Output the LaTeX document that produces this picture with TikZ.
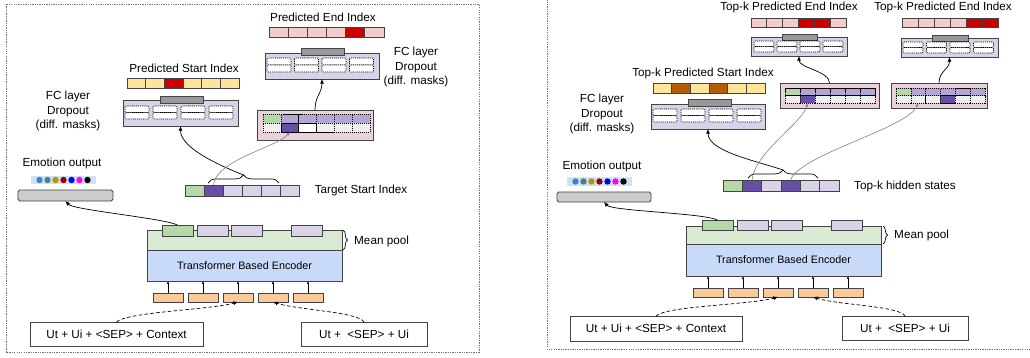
\documentclass[tikz,border=0pt]{standalone}
\usepackage{fontspec}
\setmainfont{Liberation Sans}
\usepackage{tikz}
\usetikzlibrary{positioning, decorations.pathreplacing, arrows.meta}
\definecolor{cellyellow}{HTML}{FFE599}
\definecolor{cellred}{HTML}{CC0000}
\definecolor{cellpink}{HTML}{F4CCCC}
\definecolor{cellbrown}{HTML}{B45F06}
\definecolor{fclavender}{HTML}{D9D2E9}
\definecolor{bargray}{HTML}{999999}
\definecolor{concatpink}{HTML}{EAD1DC}
\definecolor{tokgreen}{HTML}{B6D7A8}
\definecolor{tokpurple}{HTML}{B4A7D6}
\definecolor{tokdark}{HTML}{674EA7}
\definecolor{toklight}{HTML}{D9D2E9}
\definecolor{tokgray}{HTML}{EFEFEF}
\definecolor{emogray}{HTML}{CCCCCC}
\definecolor{emoblue}{HTML}{CFE2F3}
\definecolor{poolgreen}{HTML}{D9EAD3}
\definecolor{encblue}{HTML}{C9DAF8}
\definecolor{inorange}{HTML}{F9CB9C}
\definecolor{edgegray}{HTML}{434343}
\definecolor{dotA}{HTML}{3D85C6}
\definecolor{dotB}{HTML}{45818E}
\definecolor{dotC}{HTML}{BF9000}
\definecolor{dotD}{HTML}{990000}
\definecolor{dotE}{HTML}{0000FF}
\definecolor{dotF}{HTML}{FF00FF}
\definecolor{dotG}{HTML}{000000}
\tikzset{
    box/.style = {draw=edgegray, line width=0.7pt, inner sep=0pt, outer sep=0pt},
    cell/.style = {box, minimum height=0.3cm},
    dcell/.style = {draw=black, line width=0.45pt, dash pattern=on 1pt off 0.8pt,
        rounded corners=0.8pt, fill=white},
    pcell/.style = {draw=black, line width=0.4pt, dash pattern=on 1pt off 0.7pt,
        inner sep=0pt, outer sep=0pt},
    txt/.style = {font=\fontsize{10}{12}\selectfont, align=center, inner sep=0pt},
    line/.style = {-{Latex[length=4pt,width=3.5pt]}, line width=0.6pt},
    gline/.style = {-{Latex[length=3pt,width=2.5pt]}, line width=0.5pt, draw=gray},
    tick/.style = {-{Latex[length=2.5pt,width=2pt]}, line width=0.4pt},
    dline/.style = {line, dash pattern=on 3pt off 2pt},
    frame/.style = {draw=gray!90!black, line width=0.8pt, dash pattern=on 1.1pt off 0.9pt},
    curly/.style = {decorate, decoration={brace, amplitude=#1}, line width=0.6pt}
}

\begin{document}
\begin{tikzpicture}[x=0.03cm, y=-0.03cm]

    \useasboundingbox (0,0) rectangle (1030,357);
    \clip (0,0) rectangle (1030,357);

    % Outer frames
    \draw[frame] (6,4) rectangle (479,352);
    \draw[frame] (547,-10) rectangle (1040,349);

    %%%%%%%%%%%%%%%% LEFT PANEL %%%%%%%%%%%%%%%%

    % Predicted start index
    \node[txt] (psLtxt) at (184,68) {Predicted Start Index};
    \foreach \c [count=\i] in {cellyellow,cellyellow,cellred,cellyellow,cellyellow,cellyellow}
        \node[cell, fill=\c, minimum width=0.561cm] (psL\i) at ({127+18.7*(\i-0.5)},83) {};

    % FC layer (start)
    \node[box, fill=fclavender, minimum width=3.45cm, minimum height=0.78cm] (fcsL) at (180.5,113) {};
    \node[box, fill=bargray, minimum width=1.29cm, minimum height=0.21cm] (barsL) at (181.5,99.5) {};
    \foreach \i in {0,...,3} {
        \draw[dcell] ({125+28*\i},106) rectangle ++(24,6.5);
        \draw[dcell] ({125+28*\i},112.5) rectangle ++(24,6.5);
    }
    \node[txt] (fcLtxtA) at (68,111) {FC layer\\Dropout\\(diff. masks)};

    % Predicted end index
    \node[txt] (peLtxt) at (323,17) {Predicted End Index};
    \foreach \c [count=\i] in {cellpink,cellpink,cellpink,cellpink,cellred,cellpink}
        \node[cell, fill=\c, minimum width=0.575cm] (peL\i) at ({269+19.17*(\i-0.5)},32) {};

    % FC layer (end)
    \node[box, fill=fclavender, minimum width=3.42cm, minimum height=0.78cm] (fceL) at (322,66) {};
    \node[box, fill=bargray, minimum width=1.29cm, minimum height=0.21cm] (bareL) at (322.5,51.5) {};
    \foreach \i in {0,...,3} {
        \draw[dcell] ({267+27.5*\i},58) rectangle ++(24,7);
        \draw[dcell] ({267+27.5*\i},65) rectangle ++(24,7);
    }
    \node[txt] (fcLtxtB) at (416,67) {FC layer\\Dropout\\(diff. masks)};

    % Concatenated states
    \node[box, fill=concatpink, minimum width=3.48cm, minimum height=0.9cm] (pkL) at (315,125) {};
    \foreach \c [count=\i] in {tokgreen,tokpurple,tokpurple,tokpurple,tokpurple,tokpurple}
        \node[pcell, fill=\c, minimum width=0.535cm, minimum height=0.27cm] (pkLt\i) at ({263+17.83*(\i-0.5)},118.5) {};
    \foreach \c [count=\i] in {tokgray,tokdark,white,tokgray,tokgray,tokgray}
        \node[pcell, fill=\c, minimum width=0.535cm, minimum height=0.27cm] (pkLb\i) at ({263+17.83*(\i-0.5)},127.5) {};
    \draw[line width=0.5pt] (pkLb2.north west) rectangle (pkLb3.south east);
    \draw[line width=0.5pt] (pkLb2.north east) -- (pkLb2.south east);

    % Target start index
    \foreach \c [count=\i] in {tokgreen,tokdark,toklight,toklight,toklight,toklight}
        \node[cell, fill=\c, minimum width=0.57cm, minimum height=0.33cm] (tsL\i) at ({185+19*(\i-0.5)},190.5) {};
    \draw[curly=7pt] (208,183) -- (279,183);
    \coordinate (tipL) at (243.5,175);
    \node[txt] (tsLtxt) at (361,190) {Target Start Index};

    % Emotion output
    \node[txt] (emoLtxt) at (62,163) {Emotion output};
    \node[fill=emoblue, inner sep=0pt, minimum width=1.95cm, minimum height=0.24cm] (dotsL) at (63.5,180) {};
    \foreach \c [count=\i] in {dotA,dotB,dotC,dotD,dotE,dotF,dotG}
        \fill[\c] ({39.5+8*(\i-1)},180) circle (0.096cm);
    \node[box, fill=emogray, rounded corners=1.5pt, minimum width=2.85cm, minimum height=0.33cm] (emoL) at (65.5,195.5) {};

    % Encoder
    \node[box, fill=poolgreen, minimum width=5.85cm, minimum height=0.6cm] (mpL) at (244.5,240) {};
    \node[box, fill=encblue, minimum width=5.85cm, minimum height=0.93cm,
        font=\fontsize{9.2}{11}\selectfont] (encL) at (244.5,265.5) {Transformer Based Encoder};
    \foreach \c/\x [count=\i] in {tokgreen/177.5,toklight/212.5,toklight/246.5,toklight/307}
        \node[cell, fill=\c, minimum width=0.93cm, minimum height=0.33cm] (tcL\i) at (\x,230.5) {};
    \draw[curly=4pt] (343,230) -- (343,250);
    \node[txt, anchor=west] (mpLtxt) at (354,241) {Mean pool};

    % Input tokens
    \foreach \i in {1,...,5} {
        \node[cell, fill=inorange, minimum width=0.9cm, minimum height=0.27cm] (tokL\i) at ({168+35*(\i-1)},297.5) {};
        \draw[tick] (tokL\i.north) -- (tokL\i.north |- encL.south);
    }
    \node[box, txt, draw=edgegray, minimum width=5.19cm, minimum height=0.72cm] (inL1) at (116.5,334) {Ut + Ui + <SEP> + Context};
    \node[box, txt, draw=edgegray, minimum width=3.78cm, minimum height=0.72cm] (inL2) at (364,334) {Ut +\ \ <SEP> + Ui};

    % Connectors
    \draw[dline] (inL1.north) .. controls +(10,-10) and +(-30,8) .. (tokL3.south);
    \draw[dline] (inL2.north) .. controls +(-5,-10) and +(25,8) .. (tokL4.south);
    \draw[line] (tcL1.north) .. controls +(-15,-7) and +(8,9) .. (emoL.south);
    \draw[line] (tipL) .. controls +(-25,-10) and +(0,22) .. (fcsL.south);
    \draw[gline] (tsL2.north) .. controls +(2,-25) and +(-12,15) .. (pkLb2.south);
    \draw[line] (pkL.north) .. controls +(0,-14) and +(0,14) .. (fceL.south);

    %%%%%%%%%%%%%%%% RIGHT PANEL %%%%%%%%%%%%%%%%

    % Top-k predicted start index
    \node[txt] (psRtxt) at (703,73) {Top-k Predicted Start Index};
    \foreach \c [count=\i] in {cellyellow,cellbrown,cellyellow,cellbrown,cellyellow,cellyellow}
        \node[cell, fill=\c, minimum width=0.56cm] (psR\i) at ({653+18.67*(\i-0.5)},88) {};

    % FC layer (start)
    \node[box, fill=fclavender, minimum width=3.42cm, minimum height=0.75cm] (fcsR) at (708,116.5) {};
    \node[box, fill=bargray, minimum width=1.29cm, minimum height=0.21cm] (barsR) at (709.5,102.5) {};
    \foreach \i in {0,...,3} {
        \draw[dcell] ({653+28*\i},109) rectangle ++(24,6.5);
        \draw[dcell] ({653+28*\i},115.5) rectangle ++(24,6.5);
    }
    \node[txt] (fcRtxt) at (602,114) {FC layer\\Dropout\\(diff. masks)};

    % Top-k hidden states
    \foreach \c [count=\i] in {tokgreen,tokdark,toklight,tokdark,toklight,toklight}
        \node[cell, fill=\c, minimum width=0.58cm, minimum height=0.33cm] (tkR\i) at ({723+19.33*(\i-0.5)},185.5) {};
    \draw[curly=7pt] (748,178) -- (818,178);
    \coordinate (tipR) at (783,170);
    \node[txt] (tkRtxt) at (905,186) {Top-k hidden states};

    % End branch A
    \node[txt] (peAtxt) at (789,7) {Top-k Predicted End Index};
    \foreach \c [count=\i] in {cellpink,cellpink,cellpink,cellred,cellred,cellpink}
        \node[cell, fill=\c, minimum width=0.475cm, minimum height=0.27cm] (peA\i) at ({751+15.83*(\i-0.5)},22.5) {};
    \node[box, fill=fclavender, minimum width=2.88cm, minimum height=0.57cm] (fcA) at (799,46.5) {};
    \node[box, fill=bargray, minimum width=1.05cm, minimum height=0.18cm] (barA) at (799.5,37) {};
    \foreach \i in {0,...,3} {
        \draw[dcell] ({754+23*\i},41) rectangle ++(20,5.5);
        \draw[dcell] ({754+23*\i},46.5) rectangle ++(20,5.5);
    }
    \node[box, fill=concatpink, minimum width=2.97cm, minimum height=0.75cm] (pkA) at (829.5,95.5) {};
    \foreach \c [count=\i] in {tokgreen,tokpurple,tokpurple,tokpurple,tokpurple,tokpurple}
        \node[pcell, fill=\c, minimum width=0.45cm, minimum height=0.225cm] (pkAt\i) at ({785+15*(\i-0.5)},91.75) {};
    \foreach \c [count=\i] in {tokgray,tokdark,tokgray,tokgray,tokgray,tokgray}
        \node[pcell, fill=\c, minimum width=0.45cm, minimum height=0.225cm] (pkAb\i) at ({785+15*(\i-0.5)},99.25) {};

    % End branch B
    \node[txt] (peBtxt) at (943,7) {Top-k Predicted End Index};
    \foreach \c [count=\i] in {cellpink,cellpink,cellpink,cellpink,cellred,cellred}
        \node[cell, fill=\c, minimum width=0.48cm, minimum height=0.27cm] (peB\i) at ({902+16*(\i-0.5)},22.5) {};
    \node[box, fill=fclavender, minimum width=2.91cm, minimum height=0.57cm] (fcB) at (949.5,47.5) {};
    \node[box, fill=bargray, minimum width=1.08cm, minimum height=0.18cm] (barB) at (950,38) {};
    \foreach \i in {0,...,3} {
        \draw[dcell] ({903+23.5*\i},42) rectangle ++(20,5.5);
        \draw[dcell] ({903+23.5*\i},47.5) rectangle ++(20,5.5);
    }
    \node[box, fill=concatpink, minimum width=2.88cm, minimum height=0.75cm] (pkB) at (939,95.5) {};
    \foreach \c [count=\i] in {tokgreen,tokpurple,tokpurple,tokpurple,tokpurple,tokpurple}
        \node[pcell, fill=\c, minimum width=0.445cm, minimum height=0.225cm] (pkBt\i) at ({896+14.83*(\i-0.5)},91.75) {};
    \foreach \c [count=\i] in {tokgray,tokgray,tokgray,tokdark,tokgray,tokgray}
        \node[pcell, fill=\c, minimum width=0.445cm, minimum height=0.225cm] (pkBb\i) at ({896+14.83*(\i-0.5)},99.25) {};

    % Emotion output
    \node[txt] (emoRtxt) at (602,166) {Emotion output};
    \node[fill=emoblue, inner sep=0pt, minimum width=1.95cm, minimum height=0.27cm] (dotsR) at (599.5,181.5) {};
    \foreach \c [count=\i] in {dotA,dotB,dotC,dotD,dotE,dotF,dotG}
        \fill[\c] ({575.5+8*(\i-1)},181.5) circle (0.096cm);
    \node[box, fill=emogray, rounded corners=1.5pt, minimum width=2.82cm, minimum height=0.3cm] (emoR) at (604,197) {};

    % Encoder
    \node[box, fill=poolgreen, minimum width=5.85cm, minimum height=0.54cm] (mpR) at (783.5,235) {};
    \node[box, fill=encblue, minimum width=5.85cm, minimum height=0.96cm,
        font=\fontsize{9.2}{11}\selectfont] (encR) at (783.5,260) {Transformer Based Encoder};
    \foreach \c/\x [count=\i] in {tokgreen/717.5,toklight/752.5,toklight/786.5,toklight/847}
        \node[cell, fill=\c, minimum width=0.93cm, minimum height=0.3cm] (tcR\i) at (\x,225) {};
    \draw[curly=4pt] (883,226) -- (883,244);
    \node[txt, anchor=west] (mpRtxt) at (894,235) {Mean pool};

    % Input tokens
    \foreach \i in {1,...,5} {
        \node[cell, fill=inorange, minimum width=0.9cm, minimum height=0.27cm] (tokR\i) at ({708+35*(\i-1)},292.5) {};
        \draw[tick] (tokR\i.north) -- (tokR\i.north |- encR.south);
    }
    \node[box, txt, draw=edgegray, minimum width=5.16cm, minimum height=0.75cm] (inR1) at (656,328.5) {Ut + Ui + <SEP> + Context};
    \node[box, txt, draw=edgegray, minimum width=3.78cm, minimum height=0.72cm] (inR2) at (905,328) {Ut +\ \ <SEP> + Ui};

    % Connectors
    \draw[dline] (inR1.north) .. controls +(10,-10) and +(-30,8) .. (tokR3.south);
    \draw[dline] (inR2.north) .. controls +(-5,-10) and +(25,8) .. (tokR4.south);
    \draw[line] (tcR1.north) .. controls +(-15,-7) and +(8,9) .. (emoR.south);
    \draw[line] (tipR) .. controls +(-30,-10) and +(0,22) .. (fcsR.south);
    \draw[gline] (tkR2.north) .. controls +(3,-28) and +(-5,20) .. (pkAb2.south);
    \draw[gline] (tkR4.north) .. controls +(8,-25) and +(-10,25) .. (pkBb2.south);
    \draw[line] (pkA.north) .. controls +(0,-12) and +(0,12) .. (fcA.south);
    \draw[line] (pkB.north) .. controls +(0,-12) and +(0,12) .. (fcB.south);

\end{tikzpicture}
\end{document}
